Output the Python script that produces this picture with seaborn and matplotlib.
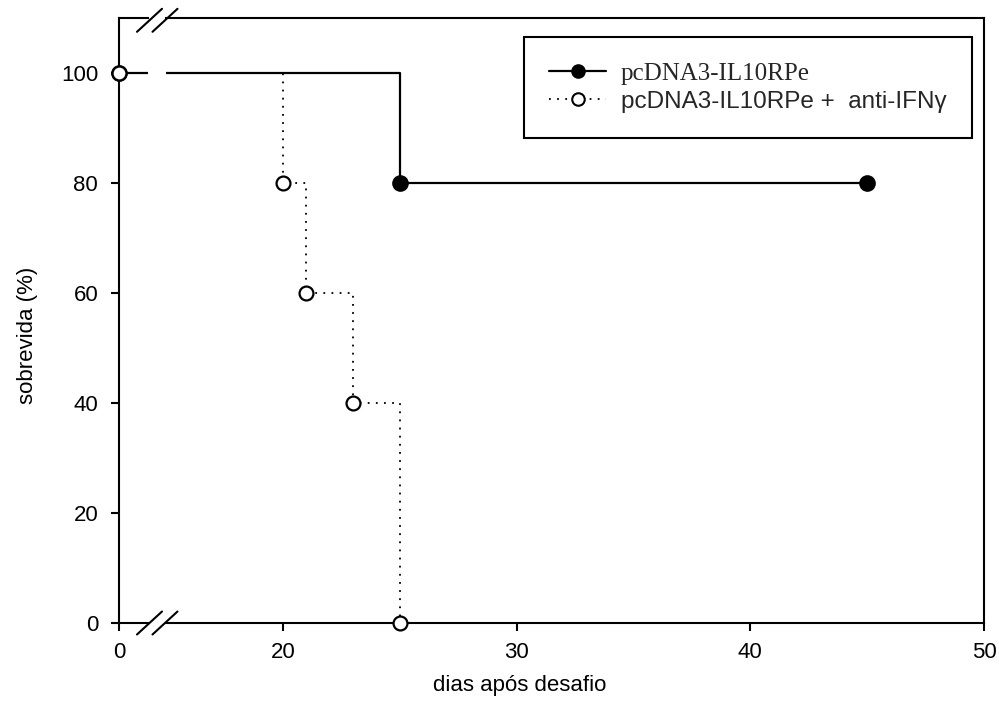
import numpy as np
import pandas as pd
import matplotlib
matplotlib.use("Agg")
import matplotlib.pyplot as plt
from matplotlib.lines import Line2D
import seaborn as sns

# Kaplan-Meier survival after challenge
days_il10 = [0, 25, 45]
surv_il10 = [100, 80, 80]

days_ifn = [0, 20, 21, 23, 25]
surv_ifn = [100, 80, 60, 40, 0]

series_labels = ["pcDNA3-IL10RPe", "pcDNA3-IL10RPe +  anti-IFN\u03b3"]
x_ticks_left = [0]
x_ticks_right = [20, 30, 40, 50]
y_ticks = [0, 20, 40, 60, 80, 100]
x_label = "dias após desafio"
y_label = "sobrevida (%)"

sns.set_theme(style="white")
plt.rcParams["font.family"] = ["Liberation Sans", "DejaVu Sans"]

W, H = 999, 725
fig = plt.figure(figsize=(W / 100, H / 100), dpi=100)
fig.patch.set_facecolor("white")

# broken x axis: short segment near 0, then 15-50
y_bot_px, y_top_px = 623, 18.3
x0_px, xbreak_l_px, xbreak_r_px, x1_px = 119, 148, 166, 984
bottom = (H - y_bot_px) / H
height = (y_bot_px - y_top_px) / H
axL = fig.add_axes([x0_px / W, bottom, (xbreak_l_px - x0_px) / W, height])
axR = fig.add_axes([xbreak_r_px / W, bottom, (x1_px - xbreak_r_px) / W, height])

px_per_day = (x1_px - xbreak_r_px) / 35.0
axL.set_xlim(0, (xbreak_l_px - x0_px) / px_per_day)
axR.set_xlim(15, 50)
for ax in (axL, axR):
    ax.set_ylim(0, 110)
    ax.set_facecolor("white")

df_a = pd.DataFrame({"dia": days_il10, "sobrevida": surv_il10})
df_b = pd.DataFrame({"dia": days_ifn, "sobrevida": surv_ifn})

dot_style = (0, (1, 3.5))
for ax in (axL, axR):
    lo, hi = ax.get_xlim()
    sns.lineplot(data=df_b, x="dia", y="sobrevida", ax=ax, color="black",
                 lw=1.3, linestyle=dot_style, drawstyle="steps-post",
                 sort=False, zorder=2)
    sns.lineplot(data=df_a, x="dia", y="sobrevida", ax=ax, color="black",
                 lw=1.6, drawstyle="steps-post", sort=False, zorder=2)
    in_a = df_a[(df_a["dia"] >= lo) & (df_a["dia"] <= hi)]
    in_b = df_b[(df_b["dia"] >= lo) & (df_b["dia"] <= hi)]
    sns.scatterplot(data=in_a, x="dia", y="sobrevida", ax=ax, s=110,
                    color="black", edgecolor="black", linewidth=1.5,
                    clip_on=False, zorder=4)
    sns.scatterplot(data=in_b, x="dia", y="sobrevida", ax=ax, s=100,
                    color="white", edgecolor="black", linewidth=1.6,
                    clip_on=False, zorder=5)
    ax.set_xlabel("")
    ax.set_ylabel("")
    for sp in ax.spines.values():
        sp.set_color("black")
        sp.set_linewidth(1.5)

axL.spines["right"].set_visible(False)
axR.spines["left"].set_visible(False)

axL.set_xticks(x_ticks_left)
axL.set_yticks(y_ticks)
axR.set_xticks(x_ticks_right)
axR.set_yticks([])

axL.tick_params(axis="both", direction="out", length=6, width=1.5,
                color="black", labelsize=16, labelcolor="black",
                bottom=True, left=True)
axL.tick_params(axis="x", pad=8)
axL.tick_params(axis="y", pad=9)
axR.tick_params(axis="x", direction="out", length=6, width=1.5,
                color="black", labelsize=16, labelcolor="black",
                bottom=True, pad=8)
axR.tick_params(axis="y", left=False, labelleft=False)

# axis break marks
half_w, half_h = 12.5 / W, 11.5 / H
for cx in (149.5, 165.0):
    for cy in (H - y_top_px - 2, H - y_bot_px):
        fx, fy = cx / W, cy / H
        fig.add_artist(Line2D([fx - half_w, fx + half_w], [fy - half_h, fy + half_h],
                              transform=fig.transFigure, color="black", lw=1.5))

fig.text(520 / W, 1 - 686 / H, x_label, ha="center", va="center",
         fontsize=16, color="black")
fig.text(27 / W, 1 - 335 / H, y_label, ha="center", va="center",
         rotation=90, fontsize=16, color="black")

handles = [
    Line2D([], [], color="black", lw=1.6, marker="o", ms=9.5,
           mfc="black", mec="black"),
    Line2D([], [], color="black", lw=1.3, linestyle=dot_style, marker="o",
           ms=9, mfc="white", mec="black", mew=1.5),
]
ax_h = (y_bot_px - y_top_px)
leg = axR.legend(handles, series_labels, loc="upper right",
                 bbox_to_anchor=((972 - xbreak_r_px) / (x1_px - xbreak_r_px),
                                 (y_bot_px - 37) / ax_h),
                 borderaxespad=0, frameon=True, fancybox=False,
                 edgecolor="black", framealpha=1, fontsize=17.5,
                 handlelength=2.35, handletextpad=0.6, labelspacing=0.25,
                 borderpad=1.05)
leg.get_frame().set_linewidth(1.5)
leg.get_texts()[0].set_family(["Liberation Serif", "DejaVu Serif"])
leg.get_texts()[0].set_fontsize(18)

fig.savefig("out.png", dpi=100, facecolor="white")
